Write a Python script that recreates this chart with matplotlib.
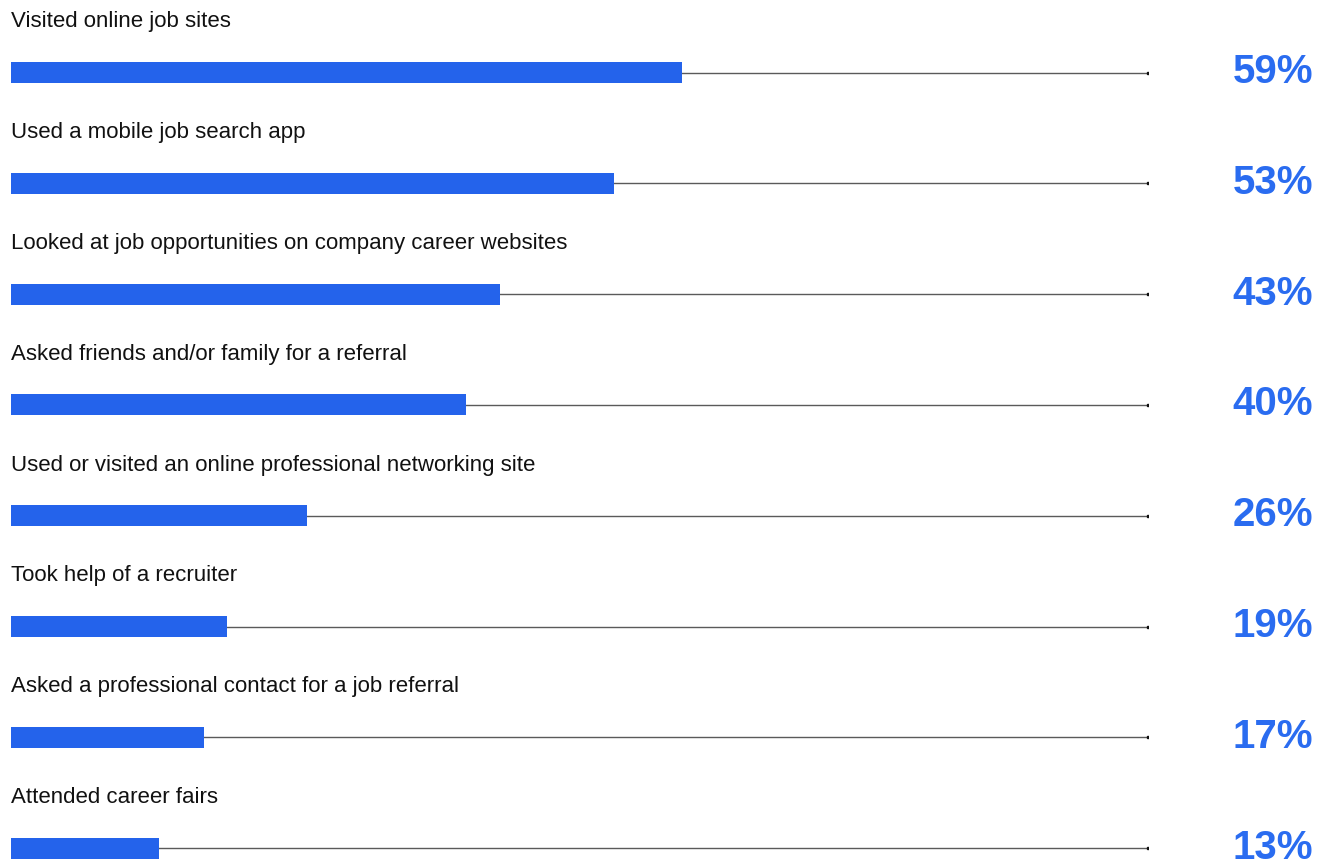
import matplotlib
matplotlib.use("Agg")
from matplotlib import pyplot as plt
from matplotlib import transforms

labels = [
    "Visited online job sites",
    "Used a mobile job search app",
    "Looked at job opportunities on company career websites",
    "Asked friends and/or family for a referral",
    "Used or visited an online professional networking site",
    "Took help of a recruiter",
    "Asked a professional contact for a job referral",
    "Attended career fairs",
]
values = [59, 53, 43, 40, 26, 19, 17, 13]

blue = "#2463eb"
pctBlue = "#2a6cf0"

plt.rcParams["font.family"] = ["Liberation Sans", "DejaVu Sans"]

W, H = 1328, 861
fig = plt.figure(figsize=(W / 100, H / 100), dpi=100)
# axes spans the track from left edge of bars to the end of the grey rule
ax = fig.add_axes([11 / W, 0, (1148 - 11) / W, 1])
ax.set_xlim(0, 100)

rowStep = 110.8
top = 72.5
ax.set_ylim((H - top) / rowStep, -top / rowStep)
ax.axis("off")

rows = list(range(len(values)))
for i in rows:
    ax.plot([0, 100], [i, i], color="#5a5a5a", lw=1, zorder=1,
            solid_capstyle="butt")
    ax.plot([100], [i], marker="s", ms=1.6, color="#111111", zorder=2)

ax.barh(rows, values, height=21 / rowStep, color=blue, zorder=3, align="center")

pctTrans = transforms.blended_transform_factory(fig.transFigure, ax.transData)
for i, (lab, v) in enumerate(zip(labels, values)):
    ax.text(0, i - 45 / rowStep, lab, fontsize=16, color="#111111",
            ha="left", va="baseline")
    ax.text(1313 / W, i + 10.5 / rowStep, f"{v}%", transform=pctTrans,
            fontsize=29, fontweight="bold", color=pctBlue,
            ha="right", va="baseline")

fig.savefig("out.png", dpi=100)
